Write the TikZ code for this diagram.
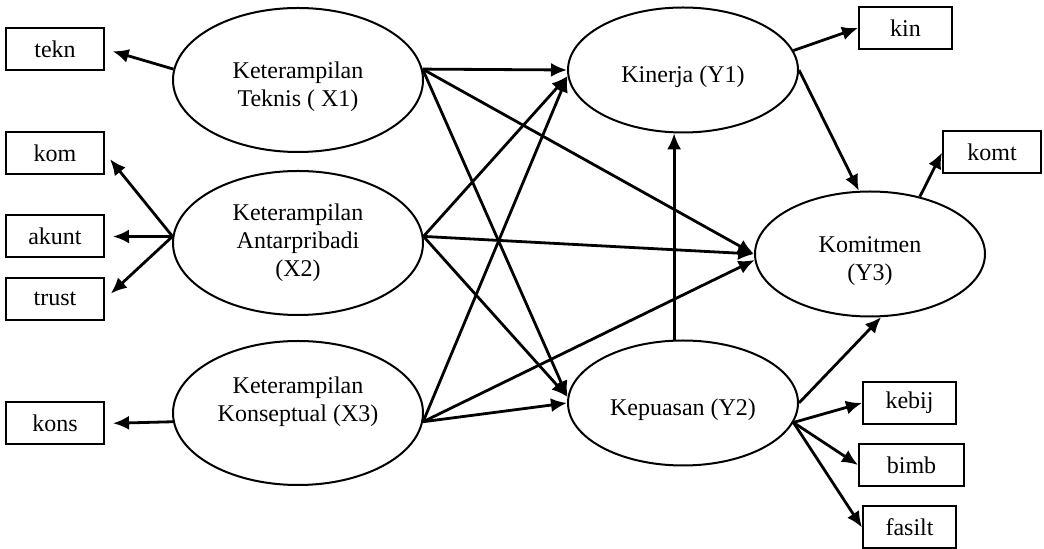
\documentclass[tikz,border=0pt]{standalone}
\usepackage{fontspec}
\setmainfont{Liberation Serif}
\usetikzlibrary{shapes.geometric,arrows.meta}
\tikzstyle{konstrukt} = [draw, ellipse,
	line width=1pt,
	minimum width=125pt,
	minimum height=72pt,
	inner sep=0pt,
	align=center,
	font=\fontsize{12}{14}\selectfont
	]
\tikzstyle{laten} = [konstrukt,
	minimum width=115pt,
	minimum height=62.5pt,
	text height=15pt
	]
\tikzstyle{indikator} = [draw, rectangle,
	line width=1pt,
	minimum width=49pt,
	minimum height=21pt,
	inner sep=0pt,
	font=\fontsize{12}{14}\selectfont
	]
\tikzstyle{pfeil} = [draw,
	-{Latex[length=8pt,width=7pt]}, line width=1.4pt
	]
\begin{document}
\begin{tikzpicture}[x=0.5pt, y=-0.5pt]
\useasboundingbox (0,0) rectangle (1044,549);
    \node [konstrukt, text height=29.5pt] (X1) at (298,80) {Keterampilan\\Teknis ( X1)};
    \node [konstrukt] (X2) at (298,243) {Keterampilan\\Antarpribadi\\(X2)};
    \node [konstrukt] (X3) at (298,413) {Keterampilan\\Konseptual (X3)\\\mbox{}};
    \node [laten] (Y1) at (683,70) {Kinerja (Y1)};
    \node [laten] (Y2) at (683,403) {Kepuasan (Y2)};
    \node [laten, text height=29pt] (Y3) at (870,254) {Komitmen\\(Y3)};

    \node [indikator] (tekn) at (55,49) {tekn};
    \node [indikator] (kom) at (55,153) {kom};
    \node [indikator] (akunt) at (55,236.5) {akunt};
    \node [indikator] (trust) at (55,299) {trust};
    \node [indikator] (kons) at (55,423.5) {kons};
    \node [indikator, minimum width=46.5pt] (kin) at (905.5,28) {kin};
    \node [indikator] (komt) at (992,152.5) {komt};
    \node [indikator, minimum width=46.5pt] (kebij) at (909.5,403) {kebij};
    \node [indikator, minimum width=52.5pt] (bimb) at (911.5,465) {bimb};
    \node [indikator, minimum width=46.5pt] (fasilt) at (909.5,527.5) {fasilt};

    \draw [pfeil, shorten >=4pt] (X1.175) -- (tekn.east);
    \draw [pfeil, shorten >=4pt] (X2.177) -- (kom.east);
    \draw [pfeil, shorten >=4pt] (X2.177) -- (akunt.east);
    \draw [pfeil, shorten >=4pt] (X2.177) -- (trust.east);
    \draw [pfeil, shorten >=4pt] (X3.184) -- (kons.east);

    \draw [pfeil] (X1.5) -- (Y1.west);
    \draw [pfeil] (X1.5) -- (Y3.west);
    \draw [pfeil] (X1.5) -- (Y2.177);
    \draw [pfeil] (X2.3) -- (Y1.-177);
    \draw [pfeil] (X2.3) -- (Y3.west);
    \draw [pfeil] (X2.3) -- (Y2.177);
    \draw [pfeil] (X3.-4) -- (Y1.-177);
    \draw [pfeil] (X3.-4) -- (Y3.-177);
    \draw [pfeil] (X3.-4) -- (Y2.west);

    \draw [pfeil] (Y2.98) -- (Y1.-98);
    \draw [pfeil] (Y1.east) -- (Y3.100);
    \draw [pfeil] (Y2.east) -- (Y3.-80);

    \draw [pfeil] (Y1.10) -- (kin.west);
    \draw [pfeil] (Y3.49) -- (komt.west);
    \draw [pfeil] (Y2.-10) -- (kebij.west);
    \draw [pfeil] (Y2.-10) -- (bimb.west);
    \draw [pfeil] (Y2.-10) -- (fasilt.west);
\end{tikzpicture}
\end{document}
